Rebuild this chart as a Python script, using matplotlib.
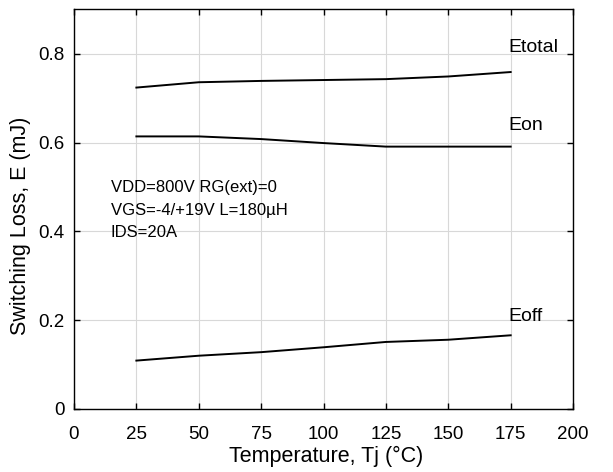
import matplotlib
matplotlib.use("Agg")
import matplotlib.pyplot as plt

plt.rcParams['font.family'] = ['Liberation Sans', 'DejaVu Sans']

temps = [25, 50, 75, 100, 125, 150, 175]
e_total = [0.724, 0.736, 0.739, 0.741, 0.743, 0.749, 0.759]
e_on = [0.614, 0.614, 0.608, 0.599, 0.591, 0.591, 0.591]
e_off = [0.109, 0.120, 0.128, 0.139, 0.151, 0.156, 0.166]

x_ticks = [0, 25, 50, 75, 100, 125, 150, 175, 200]
y_ticks = [0, 0.2, 0.4, 0.6, 0.8]
y_tick_labels = ["0", "0.2", "0.4", "0.6", "0.8"]

conditions = ["VDD=800V RG(ext)=0", "VGS=-4/+19V L=180\u00b5H", "IDS=20A"]

fig = plt.figure(figsize=(6.13, 4.72), dpi=100)
ax = fig.add_axes([0.1207, 0.1335, 0.8141, 0.8465])

for series in (e_total, e_on, e_off):
    ax.plot(temps, series, color='black', lw=1.4)

ax.text(174, 0.805, "Etotal", fontsize=14, va='baseline', ha='left')
ax.text(174, 0.629, "Eon", fontsize=14, va='baseline', ha='left')
ax.text(174, 0.198, "Eoff", fontsize=14, va='baseline', ha='left')

for i, line in enumerate(conditions):
    ax.text(14.8, 0.488 - 0.0505 * i, line, fontsize=12, va='baseline', ha='left')

ax.set_xlim(0, 200)
ax.set_ylim(0, 0.9)
ax.set_xticks(x_ticks)
ax.set_yticks(y_ticks)
ax.set_yticklabels(y_tick_labels)
ax.tick_params(direction='in', top=True, right=True, labelsize=13.5, length=4, width=1)
ax.tick_params(axis='x', pad=12)
ax.tick_params(axis='y', pad=7)
ax.grid(True, color='#d8d8d8', lw=0.8)
ax.set_axisbelow(True)
for sp in ax.spines.values():
    sp.set_linewidth(1.0)

ax.set_xlabel("Temperature, Tj (\u00b0C)", fontsize=15.5)
ax.xaxis.set_label_coords(0.505, -0.1326)
ax.xaxis.label.set_va('baseline')
ax.set_ylabel("Switching Loss, E (mJ)", fontsize=15.5)
ax.yaxis.set_label_coords(-0.108, 0.458)
ax.yaxis.label.set_va('center')

fig.savefig("out.png", dpi=100)
